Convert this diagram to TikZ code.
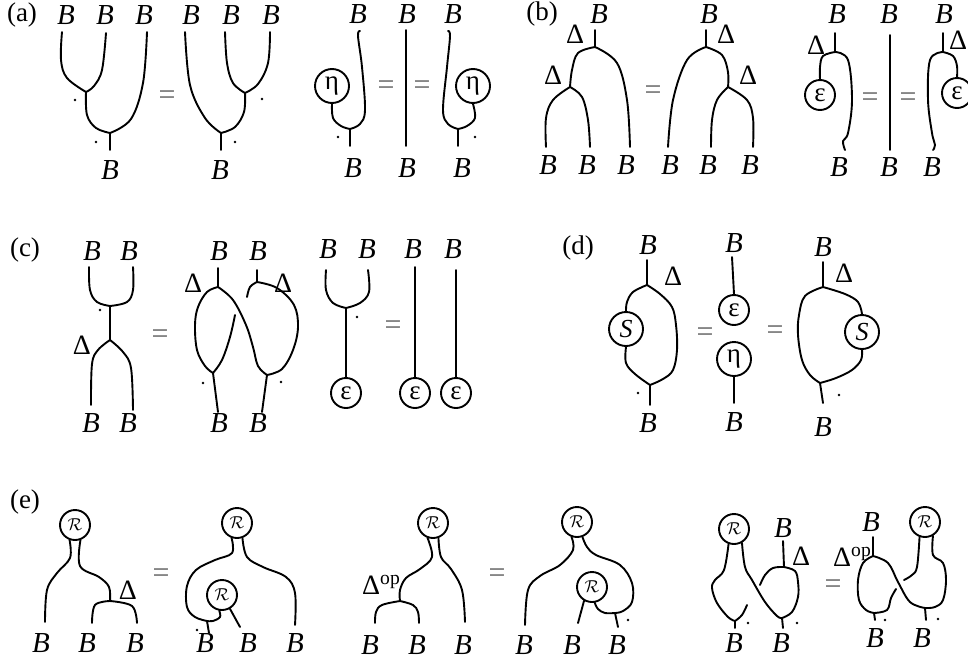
\documentclass[tikz,border=0pt]{standalone}
\usepackage{fontspec}
\setmainfont{Liberation Serif}
\newcommand\wir[1]{\draw[wire] plot[smooth,tension=0.6] coordinates {#1};}
\tikzset{
  wire/.style={line width=1.9pt, line cap=round, line join=round},
  lbl/.style={inner sep=0pt, font=\fontsize{29}{32}\selectfont},
  dl/.style={inner sep=0pt, font=\fontsize{28}{32}\selectfont},
  pl/.style={inner sep=0pt, font=\fontsize{27}{30}\selectfont},
  eqs/.style={inner sep=0pt, text=black!60, font=\fontsize{30}{32}\selectfont},
  circ/.style={draw, circle, line width=1.9pt, minimum size=34pt, inner sep=0pt, font=\fontsize{27}{30}\selectfont},
  circe/.style={circ, minimum size=30pt},
  circr/.style={circ, minimum size=30pt, font=\fontsize{18}{20}\selectfont},
  pt/.style={circle, fill, inner sep=0pt, minimum size=2.8pt}
}
\begin{document}
\begin{tikzpicture}[x=1pt,y=-1pt]
\useasboundingbox (0,0) rectangle (968,664);
% ---------------- (a)
\node[pl] (la) at (22,15) {(a)};
\node[lbl] (aT1) at (66,15) {\textit{B}};
\node[lbl] (aT2) at (105,15) {\textit{B}};
\node[lbl] (aT3) at (144,15) {\textit{B}};
\node[lbl] (aT4) at (191,15) {\textit{B}};
\node[lbl] (aT5) at (231,15) {\textit{B}};
\node[lbl] (aT6) at (271,15) {\textit{B}};
\coordinate (a1) at (86,92);
\coordinate (a2) at (110,133);
\coordinate (a3) at (221,133);
\coordinate (a4) at (245,93);
\wir{(62,32) (61,60) (67,78) (a1)}
\wir{(106,33) (102,70) (94,86) (a1)}
\wir{(a1) (87,115) (96,128) (a2)}
\wir{(147,32) (143,83) (131,119) (a2)}
\draw[wire] (a2) -- (110,150);
\wir{(185,32) (190,85) (205,118) (a3)}
\wir{(225,32) (227,63) (233,83) (a4)}
\wir{(270,32) (268,63) (258,84) (a4)}
\wir{(a4) (244,112) (235,127) (a3)}
\draw[wire] (a3) -- (221,150);
\node[pt] (ad1) at (75,100) {};
\node[pt] (ad2) at (96,142) {};
\node[pt] (ad3) at (262,99) {};
\node[pt] (ad4) at (235,142) {};
\node[lbl] (aB1) at (110,170) {\textit{B}};
\node[lbl] (aB2) at (220,170) {\textit{B}};
\node[eqs] (aeq1) at (167,98) {=};
% unit
\node[lbl] (uT1) at (358,14) {\textit{B}};
\node[lbl] (uT2) at (407,14) {\textit{B}};
\node[lbl] (uT3) at (453,14) {\textit{B}};
\node[circ] (et1) at (332,86) {η};
\coordinate (u1) at (350,129);
\wir{(et1.south) (333,118) (341,126) (u1)}
\wir{(360,31) (358,36) (362,67) (365,110) (360,124) (u1)}
\draw[wire] (u1) -- (350,146);
\draw[wire] (406,30) -- (406,146);
\node[circ] (et2) at (473,86) {η};
\coordinate (u2) at (458,129);
\wir{(448,31) (450,36) (447,67) (443,110) (448,124) (u2)}
\wir{(et2.south) (475,118) (467,126) (u2)}
\draw[wire] (u2) -- (458,146);
\node[pt] (ud1) at (338,137) {};
\node[pt] (ud2) at (475,137) {};
\node[eqs] (ueq1) at (386,88) {=};
\node[eqs] (ueq2) at (422,88) {=};
\node[lbl] (uB1) at (353,168) {\textit{B}};
\node[lbl] (uB2) at (407,168) {\textit{B}};
\node[lbl] (uB3) at (462,168) {\textit{B}};
% ---------------- (b)
\node[pl] (lb) at (542,14) {(b)};
\node[lbl] (bT1) at (599,14) {\textit{B}};
\node[lbl] (bT2) at (709,14) {\textit{B}};
\node[dl] (bD1) at (575,34) {Δ};
\node[dl] (bD2) at (553,75) {Δ};
\node[dl] (bD3) at (726,34) {Δ};
\node[dl] (bD4) at (748,75) {Δ};
\coordinate (b1) at (595,47);
\coordinate (b2) at (570,87);
\draw[wire] (595,30) -- (b1);
\wir{(b1) (578,53) (572,70) (b2)}
\wir{(b1) (617,63) (627,100) (630,147)}
\wir{(b2) (553,100) (546,118) (546,147)}
\wir{(b2) (582,97) (588,120) (590,147)}
\coordinate (b3) at (706,47);
\coordinate (b4) at (728,87);
\draw[wire] (706,30) -- (b3);
\wir{(b3) (687,60) (673,100) (668,147)}
\wir{(b3) (722,55) (728,72) (b4)}
\wir{(b4) (717,100) (712,120) (711,147)}
\wir{(b4) (747,100) (753,118) (753,147)}
\node[eqs] (beq1) at (653,93) {=};
\node[lbl] (bB1) at (548,165) {\textit{B}};
\node[lbl] (bB2) at (587,165) {\textit{B}};
\node[lbl] (bB3) at (626,165) {\textit{B}};
\node[lbl] (bB4) at (670,165) {\textit{B}};
\node[lbl] (bB5) at (708,165) {\textit{B}};
\node[lbl] (bB6) at (750,165) {\textit{B}};
% counit
\node[lbl] (cT1) at (837,14) {\textit{B}};
\node[lbl] (cT2) at (889,14) {\textit{B}};
\node[lbl] (cT3) at (944,14) {\textit{B}};
\node[dl] (cD1) at (816,45) {Δ};
\node[dl] (cD2) at (958,40) {Δ};
\coordinate (b5) at (835,52);
\draw[wire] (835,33) -- (b5);
\node[circe] (ep1) at (820,95) {ε};
\wir{(b5) (823,56) (820,67) (ep1.north)}
\wir{(b5) (848,60) (852,100) (848,133) (843,141) (845,150)}
\draw[wire] (890,35) -- (890,150);
\coordinate (b6) at (943,52);
\draw[wire] (943,33) -- (b6);
\node[circe] (ep2) at (957,93) {ε};
\wir{(b6) (930,60) (928,100) (932,133) (935,145) (933,150)}
\wir{(b6) (953,56) (957,66) (ep2.north)}
\node[eqs] (ceq1) at (870,100) {=};
\node[eqs] (ceq2) at (908,100) {=};
\node[lbl] (cB1) at (839,167) {\textit{B}};
\node[lbl] (cB2) at (889,167) {\textit{B}};
\node[lbl] (cB3) at (932,167) {\textit{B}};
% ---------------- (c)
\node[pl] (lc) at (25,250) {(c)};
\node[lbl] (dT1) at (92,251) {\textit{B}};
\node[lbl] (dT2) at (129,251) {\textit{B}};
\coordinate (c1) at (110,306);
\coordinate (c2) at (110,340);
\wir{(89,267) (90,290) (97,302) (c1)}
\wir{(133,267) (133,290) (127,302) (c1)}
\draw[wire] (c1) -- (c2);
\wir{(c2) (98,350) (92,364) (91,405)}
\wir{(c2) (123,352) (131,368) (133,410)}
\node[pt] (cd1) at (100,310) {};
\node[dl] (cD3) at (82,345) {Δ};
\node[lbl] (dB1) at (91,423) {\textit{B}};
\node[lbl] (dB2) at (128,423) {\textit{B}};
\node[eqs] (deq1) at (160,337) {=};
\node[lbl] (dT3) at (219,251) {\textit{B}};
\node[lbl] (dT4) at (258,251) {\textit{B}};
\node[dl] (cD4) at (193,283) {Δ};
\node[dl] (cD5) at (283,283) {Δ};
\coordinate (c3) at (218,287);
\coordinate (c4) at (257,282);
\coordinate (c5) at (213,373);
\coordinate (c6) at (267,375);
\draw[wire] (218,268) -- (c3);
\draw[wire] (257,270) -- (c4);
\wir{(c3) (207,292) (198,307) (195,325) (197,350) (205,366) (c5)}
\wir{(c3) (233,300) (246,325) (253,347) (258,366) (c6)}
\wir{(235,315) (230,337) (222,360) (c5)}
\wir{(c4) (277,288) (294,305) (298,327) (293,350) (282,369) (c6)}
\wir{(c4) (250,287) (247,297)}
\draw[wire] (c5) -- (218,412);
\draw[wire] (c6) -- (262,412);
\node[pt] (cd2) at (203,383) {};
\node[pt] (cd3) at (281,382) {};
\node[lbl] (dB3) at (219,423) {\textit{B}};
\node[lbl] (dB4) at (258,423) {\textit{B}};
% counit c
\node[lbl] (eT1) at (328,249) {\textit{B}};
\node[lbl] (eT2) at (367,249) {\textit{B}};
\node[lbl] (eT3) at (413,249) {\textit{B}};
\node[lbl] (eT4) at (453,249) {\textit{B}};
\coordinate (c7) at (346,308);
\wir{(326,270) (326,290) (333,303) (c7)}
\wir{(368,270) (369,292) (360,303) (c7)}
\node[circe] (ep3) at (346,393) {ε};
\draw[wire] (c7) -- (ep3.north);
\node[pt] (cd4) at (357,317) {};
\node[eqs] (eeq1) at (393,328) {=};
\node[circe] (ep4) at (415,393) {ε};
\node[circe] (ep5) at (456,393) {ε};
\draw[wire] (415,267) -- (ep4.north);
\draw[wire] (456,270) -- (ep5.north);
% ---------------- (d)
\node[pl] (ld) at (578,248) {(d)};
\node[lbl] (fT1) at (648,245) {\textit{B}};
\node[dl] (fD1) at (673,276) {Δ};
\coordinate (d1) at (647,285);
\coordinate (d2) at (650,385);
\draw[wire] (647,260) -- (d1);
\node[circ,font=\fontsize{26}{28}\selectfont\itshape] (S1) at (626,329) {S};
\wir{(d1) (633,292) (627,302) (S1.north)}
\wir{(S1.south) (626,363) (635,374) (d2)}
\wir{(d1) (660,294) (672,307) (676,325) (677,350) (673,370) (663,379) (d2)}
\draw[wire] (d2) -- (650,405);
\node[pt] (dd1) at (638,393) {};
\node[lbl] (fB1) at (648,423) {\textit{B}};
\node[eqs] (feq1) at (705,335) {=};
\node[lbl] (fT2) at (734,243) {\textit{B}};
\node[circe] (ep6) at (734,310) {ε};
\node[circ] (et3) at (734,359) {η};
\draw[wire] (732,257) -- (ep6.north);
\draw[wire] (et3.south) -- (734,403);
\node[lbl] (fB2) at (734,422) {\textit{B}};
\node[eqs] (feq2) at (775,333) {=};
\node[lbl] (fT3) at (823,247) {\textit{B}};
\node[dl] (fD2) at (844,273) {Δ};
\coordinate (d3) at (823,287);
\coordinate (d4) at (820,383);
\draw[wire] (823,262) -- (d3);
\node[circ,font=\fontsize{26}{28}\selectfont\itshape] (S2) at (862,332) {S};
\wir{(d3) (805,296) (799,315) (798,335) (802,360) (810,375) (d4)}
\wir{(d3) (845,294) (858,302) (S2.north)}
\wir{(S2.south) (861,360) (852,370) (836,378) (d4)}
\draw[wire] (d4) -- (823,403);
\node[pt] (dd2) at (839,395) {};
\node[lbl] (fB3) at (823,427) {\textit{B}};
% ---------------- (e)
\node[pl] (le) at (25,502) {(e)};
% diagram 1
\node[circr] (R1) at (75,525) {$\mathcal{R}$};
\coordinate (e1) at (110,601);
\wir{(R1.-110) (70,558) (57,573) (47,590) (45,622)}
\wir{(R1.-70) (80,566) (99,577) (109,587) (e1)}
\wir{(e1) (95,605) (92,623)}
\wir{(e1) (132,606) (137,623)}
\node[dl] (gD1) at (128,590) {Δ};
\node[lbl] (gB1) at (41,643) {\textit{B}};
\node[lbl] (gB2) at (87,643) {\textit{B}};
\node[lbl] (gB3) at (135,643) {\textit{B}};
\node[eqs] (geq1) at (161,576) {=};
% diagram 2
\node[circr] (R2) at (237,523) {$\mathcal{R}$};
\node[circr] (R3) at (222,595) {$\mathcal{R}$};
\coordinate (e2) at (207,621);
\wir{(R2.-110) (232,553) (215,560) (196,570) (187,586) (187,607) (195,617) (e2)}
\wir{(R3.-100) (220,617) (213,621) (e2)}
\draw[wire] (e2) -- (209,633);
\draw[wire] (R3.-60) -- (240,627);
\wir{(R2.-70) (247,557) (263,567) (286,577) (295,593) (295,625)}
\node[pt] (gd1) at (197,630) {};
\node[lbl] (gB4) at (205,643) {\textit{B}};
\node[lbl] (gB5) at (248,643) {\textit{B}};
\node[lbl] (gB6) at (295,643) {\textit{B}};
% diagram 3
\node[circr] (R4) at (433,523) {$\mathcal{R}$};
\coordinate (e3) at (400,601);
\wir{(R4.-110) (432,557) (420,569) (406,578) (400,590) (e3)}
\wir{(R4.-70) (441,557) (451,569) (462,590) (465,622)}
\wir{(e3) (382,605) (376,612) (375,623)}
\wir{(e3) (413,605) (418,612) (419,623)}
\node[dl,anchor=base west] (gD2) at (362,594) {Δ\textsuperscript{op}};
\node[lbl] (gB7) at (370,645) {\textit{B}};
\node[lbl] (gB8) at (417,645) {\textit{B}};
\node[lbl] (gB9) at (463,645) {\textit{B}};
\node[eqs] (geq2) at (497,576) {=};
% diagram 4
\node[circr] (R5) at (577,522) {$\mathcal{R}$};
\node[circr] (R6) at (592,587) {$\mathcal{R}$};
\coordinate (e4) at (615,613);
\wir{(R5.-110) (573,550) (560,565) (540,576) (528,590) (525,625)}
\wir{(R5.-70) (587,547) (596,555) (620,565) (632,583) (632,602) (623,611) (e4)}
\wir{(R6.-80) (598,609) (605,613) (e4)}
\draw[wire] (e4) -- (618,627);
\draw[wire] (R6.-120) -- (578,623);
\node[pt] (gd2) at (628,620) {};
\node[lbl] (gB10) at (524,645) {\textit{B}};
\node[lbl] (gB11) at (572,645) {\textit{B}};
\node[lbl] (gB12) at (617,645) {\textit{B}};
% diagram 5
\node[circr] (R7) at (734,529) {$\mathcal{R}$};
\coordinate (e5) at (735,621);
\coordinate (e6) at (784,567);
\coordinate (e7) at (782,618);
\wir{(R7.-110) (724,570) (715,580) (712,588) (717,603) (728,617) (e5)}
\wir{(e5) (742,615) (747,605)}
\draw[wire] (e5) -- (735,628);
\wir{(R7.-60) (745,567) (752,580) (765,602) (777,616) (e7)}
\node[lbl] (hT1) at (783,528) {\textit{B}};
\node[dl] (hD1) at (801,556) {Δ};
\draw[wire] (783,541) -- (e6);
\wir{(e6) (773,568) (765,575) (760,585)}
\wir{(e6) (795,571) (798,582) (798,597) (792,612) (e7)}
\draw[wire] (e7) -- (783,628);
\node[pt] (hd1) at (748,623) {};
\node[pt] (hd2) at (797,623) {};
\node[lbl] (hB1) at (734,643) {\textit{B}};
\node[lbl] (hB2) at (781,643) {\textit{B}};
\node[eqs] (heq1) at (833,587) {=};
% diagram 6
\node[lbl] (hT2) at (871,522) {\textit{B}};
\node[dl,anchor=base west] (hD2) at (833,566) {Δ\textsuperscript{op}};
\coordinate (e8) at (873,556);
\coordinate (e9) at (874,613);
\coordinate (e10) at (925,608);
\draw[wire] (873,537) -- (e8);
\wir{(e8) (863,563) (858,580) (859,600) (866,610) (e9)}
\wir{(e8) (888,563) (898,582) (910,602) (e10)}
\wir{(e9) (887,610) (891,598) (896,589)}
\node[circr] (R8) at (925,522) {$\mathcal{R}$};
\wir{(R8.-110) (917,567) (912,575) (904,580)}
\wir{(R8.-60) (933,555) (943,563) (946,580) (943,600) (935,607) (e10)}
\draw[wire] (e9) -- (875,620);
\draw[wire] (e10) -- (926,620);
\node[pt] (hd3) at (885,620) {};
\node[pt] (hd4) at (938,619) {};
\node[lbl] (hB3) at (875,638) {\textit{B}};
\node[lbl] (hB4) at (922,638) {\textit{B}};
\end{tikzpicture}
\end{document}
